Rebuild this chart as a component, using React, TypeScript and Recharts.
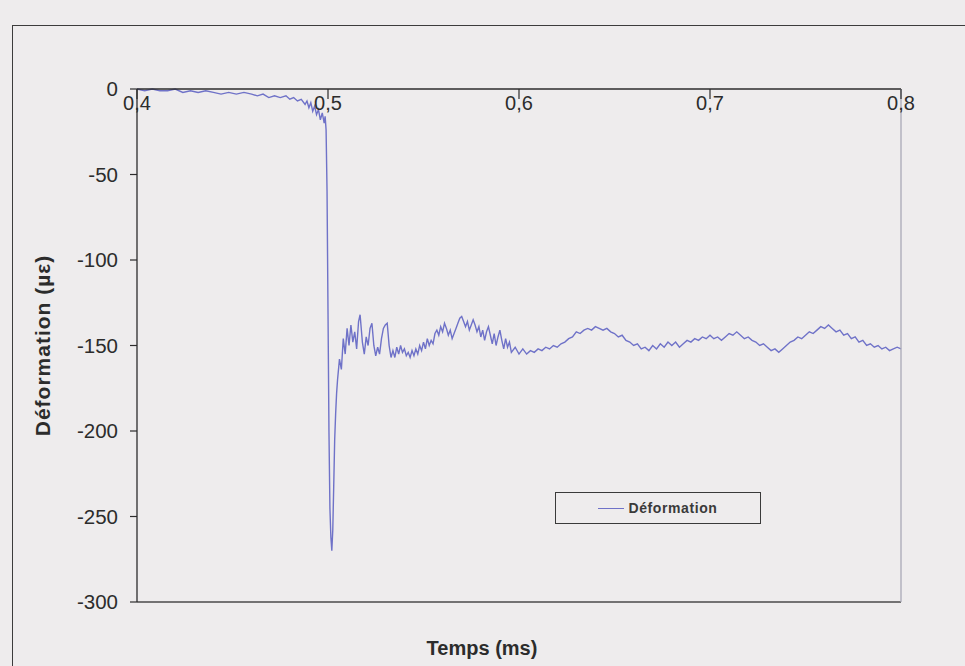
import React from 'react';
import { LineChart, Line, XAxis, YAxis, Legend } from 'recharts';

// Time (ms)
const timeMs = [
    0.400, 0.404, 0.408, 0.412, 0.416, 0.420, 0.424, 0.428, 0.432, 0.436, 0.440, 0.444, 0.448, 0.452, 0.456, 0.460,
    0.463, 0.466, 0.469, 0.472, 0.475, 0.478, 0.480, 0.482, 0.484, 0.486, 0.488, 0.489, 0.490, 0.491, 0.492, 0.493,
    0.494, 0.495, 0.496, 0.497, 0.498, 0.4985, 0.499, 0.4995, 0.5000, 0.5005, 0.5010, 0.5015, 0.5020, 0.5025, 0.5030,
    0.5035, 0.5040, 0.5045, 0.505, 0.506, 0.507, 0.508, 0.509, 0.510, 0.511, 0.512, 0.513, 0.514, 0.515, 0.516,
    0.5168, 0.518, 0.519, 0.520, 0.521, 0.522, 0.523, 0.524, 0.525, 0.526, 0.527, 0.528, 0.529, 0.530, 0.531, 0.532,
    0.533, 0.534, 0.535, 0.536, 0.537, 0.538, 0.539, 0.540, 0.541, 0.542, 0.543, 0.544,
    0.545, 0.546, 0.547, 0.548, 0.549, 0.550, 0.551, 0.552, 0.553, 0.554, 0.555, 0.556, 0.557, 0.558, 0.559, 0.560,
    0.561, 0.562, 0.563, 0.564, 0.565, 0.566, 0.567, 0.568, 0.569, 0.570, 0.571, 0.572, 0.573, 0.574, 0.575, 0.576,
    0.577, 0.578, 0.579, 0.580, 0.581, 0.582, 0.583, 0.584, 0.585, 0.586, 0.587, 0.588, 0.589, 0.590, 0.591, 0.592,
    0.593, 0.594, 0.595, 0.596, 0.598, 0.600, 0.602, 0.604, 0.606, 0.608, 0.610, 0.612, 0.614, 0.616, 0.618, 0.620,
    0.622, 0.624, 0.626, 0.628, 0.630, 0.632, 0.634, 0.636, 0.638, 0.640, 0.642, 0.644, 0.646, 0.648, 0.650, 0.652,
    0.654, 0.656, 0.658, 0.660, 0.662, 0.664, 0.666, 0.668, 0.670, 0.672, 0.674, 0.676, 0.678, 0.680, 0.682, 0.684,
    0.686, 0.688, 0.690, 0.692, 0.694, 0.696, 0.698, 0.700, 0.702, 0.704, 0.706, 0.708, 0.710, 0.712, 0.714, 0.716,
    0.718, 0.720, 0.722, 0.724, 0.726, 0.728, 0.730, 0.732, 0.734, 0.736, 0.738, 0.740, 0.742, 0.744, 0.746, 0.748,
    0.750, 0.752, 0.754, 0.756, 0.758, 0.760, 0.762, 0.764, 0.766, 0.768, 0.770, 0.772, 0.774, 0.776, 0.778, 0.780,
    0.782, 0.784, 0.786, 0.788, 0.790, 0.792, 0.794, 0.796, 0.798, 0.800,
];

// Déformation (µε)
const strain = [
    0, -1, 0, -1, -1, 0, -2, -1, -2, -1, -2, -3, -2, -3, -2, -3,
    -4, -3, -5, -4, -5, -4, -6, -5, -7, -6, -9, -7, -11, -8, -13, -10,
    -15, -12, -18, -14, -20, -16, -24, -60, -130, -200, -245, -262, -270, -258, -232,
    -205, -190, -178, -170, -158, -164, -146, -155, -140, -150, -138, -148, -142, -152, -136,
    -132, -148, -155, -145, -150, -140, -137, -150, -156, -151, -155, -146, -140, -138, -137, -150,
    -157, -153, -157, -151, -155, -150, -154, -152, -156, -154, -157, -153,
    -156, -152, -155, -150, -153, -148, -152, -146, -150, -147, -149, -143, -141, -144, -139, -142,
    -137, -140, -144, -141, -146, -143, -140, -137, -134, -133, -136, -139, -136, -141, -138, -135,
    -138, -142, -139, -145, -141, -147, -142, -139, -144, -149, -143, -150, -145, -141, -147, -152,
    -146, -151, -148, -154, -151, -155, -152, -155, -153, -154, -152, -153, -151, -152, -150, -151,
    -149, -148, -146, -145, -142, -143, -141, -140, -141, -139, -140, -141, -140, -142, -143, -145,
    -144, -147, -148, -150, -149, -152, -151, -153, -150, -152, -149, -151, -148, -150, -148, -151,
    -149, -147, -148, -146, -147, -145, -146, -144, -146, -145, -147, -145, -143, -144, -142, -144,
    -146, -145, -147, -148, -150, -149, -151, -153, -152, -154, -152, -150, -148, -147, -145, -146,
    -144, -142, -143, -141, -139, -140, -138, -140, -142, -141, -144, -143, -146, -145, -148, -147,
    -150, -149, -151, -150, -152, -151, -153, -152, -151, -152,
];

const xTicks = [0.4, 0.5, 0.6, 0.7, 0.8];
const yTicks = [0, -50, -100, -150, -200, -250, -300];
const seriesName = 'Déformation';
const xTitle = 'Temps (ms)';
const yTitle = 'Déformation (µε)';

const data = timeMs.map((t, i) => ({ t, v: strain[i] }));

const INK = '#2c2c2c';
const FONT = '"Liberation Sans", Arial, sans-serif';

// x axis sits on the zero line (top of the plot), labels hang below it
const TopTick = (props: any) => {
    const { x, y, payload } = props;
    return (
        <g>
            <line x1={x} y1={y} x2={x} y2={y + 10} stroke={INK} strokeWidth={1.2} />
            <text x={x} y={y + 21} textAnchor="middle" fontSize={20} fill={INK} fontFamily={FONT}>
                {String(payload.value).replace('.', ',')}
            </text>
        </g>
    );
};

const LegendBox = () => (
    <div style={{
        width: 206, height: 32, border: '1.5px solid #3a3a3a', boxSizing: 'border-box',
        display: 'flex', alignItems: 'center', justifyContent: 'center', fontFamily: FONT,
    }}>
        <span style={{ display: 'inline-block', width: 26, height: 0, borderTop: '1.5px solid #6f72c8', marginRight: 4 }} />
        <span style={{ fontSize: 14, fontWeight: 'bold', color: '#3a3a3a', letterSpacing: 0.6 }}>{seriesName}</span>
    </div>
);

const App: React.FC = () => {
    return (
        <div style={{ position: 'absolute', left: 0, top: 0, width: 965, height: 666, background: '#eeeced', overflow: 'hidden' }}>
            {/* frame of the scanned chart area */}
            <div style={{ position: 'absolute', left: 12, top: 25, width: 1000, height: 700, border: '1.5px solid #3c3c3c' }} />
            <div style={{ position: 'absolute', left: 0, top: 0 }}>
                <LineChart width={965} height={666} data={data} margin={{ top: 59, right: 0, bottom: 0, left: 77 }}>
                    <XAxis
                        dataKey="t"
                        type="number"
                        orientation="top"
                        domain={[0.4, 0.8]}
                        ticks={xTicks}
                        height={30}
                        tickSize={0}
                        tickMargin={0}
                        tick={<TopTick />}
                        axisLine={{ stroke: INK, strokeWidth: 1.3 }}
                    />
                    <XAxis
                        xAxisId="frame"
                        type="number"
                        orientation="bottom"
                        domain={[0.4, 0.8]}
                        height={64}
                        tick={false}
                        tickLine={false}
                        axisLine={{ stroke: '#4a4a4a', strokeWidth: 1.3 }}
                        label={({ viewBox }: any) => (
                            <text x={viewBox.x + viewBox.width / 2 - 37} y={viewBox.y + 53} textAnchor="middle"
                                fontSize={20} fontWeight="bold" fill={INK} fontFamily={FONT}>{xTitle}</text>
                        )}
                    />
                    <YAxis
                        type="number"
                        domain={[-300, 0]}
                        ticks={yTicks}
                        width={60}
                        tickSize={7}
                        tickMargin={12}
                        tick={{ fontSize: 20.5, fill: INK, fontFamily: FONT }}
                        tickLine={{ stroke: INK, strokeWidth: 1.2 }}
                        axisLine={{ stroke: INK, strokeWidth: 1.3 }}
                        label={({ viewBox }: any) => {
                            const cx = viewBox.x - 35;
                            const cy = viewBox.y + viewBox.height / 2;
                            return (
                                <text x={cx} y={cy} transform={`rotate(-90 ${cx} ${cy})`} textAnchor="middle"
                                    dominantBaseline="central" fontSize={21} fontWeight="bold" fill={INK}
                                    fontFamily={FONT} letterSpacing={1}>{yTitle}</text>
                            );
                        }}
                    />
                    <YAxis
                        yAxisId="frame"
                        type="number"
                        orientation="right"
                        domain={[-300, 0]}
                        width={64}
                        tick={false}
                        tickLine={false}
                        axisLine={{ stroke: '#a9a9b6', strokeWidth: 1.3 }}
                    />
                    <Legend
                        verticalAlign="middle"
                        align="center"
                        content={<LegendBox />}
                        wrapperStyle={{ position: 'absolute', left: 555, top: 492, width: 206, height: 32 }}
                    />
                    <Line
                        type="linear"
                        dataKey="v"
                        name={seriesName}
                        stroke="#6f72c8"
                        strokeWidth={1.4}
                        dot={false}
                        isAnimationActive={false}
                    />
                </LineChart>
            </div>
        </div>
    );
};

export default App;
